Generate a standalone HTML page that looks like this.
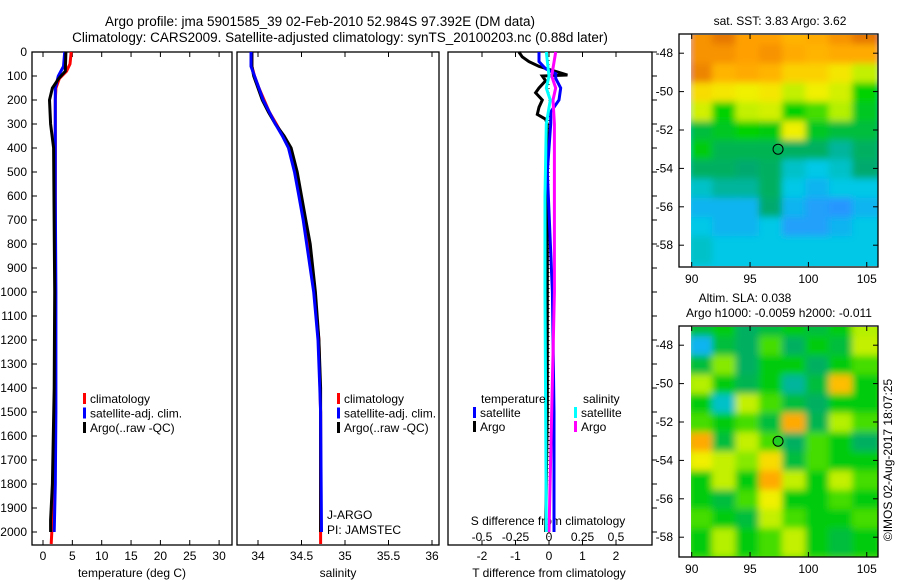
<!DOCTYPE html>
<html><head><meta charset="utf-8"><style>
body{margin:0;background:#fff;}
svg{display:block;font-family:"Liberation Sans",sans-serif;}
text{fill:#000;}
</style></head><body>
<svg id="c" width="900" height="580" viewBox="0 0 900 580">
<defs><filter id="bl" x="-5%" y="-5%" width="110%" height="110%"><feGaussianBlur stdDeviation="3.5"/></filter>
<clipPath id="cm1"><rect x="691" y="35" width="187" height="231"/></clipPath>
<clipPath id="cm2"><rect x="691" y="327" width="187" height="230"/></clipPath></defs>
<text x="320" y="26" font-size="13.5" text-anchor="middle">Argo profile: jma 5901585_39 02-Feb-2010 52.984S 97.392E (DM data)</text>
<text x="340" y="42" font-size="13.5" text-anchor="middle">Climatology: CARS2009. Satellite-adjusted climatology: synTS_20100203.nc (0.88d later)</text>
<g id="g"></g>
</svg>
<script>
// ---- profile data (depth in m) ----
const tClimDepth=[0,50,80,110,150,200,400,1000,1500,1800,2000,2050];
const tClim=[4.8,4.6,4.0,2.8,2.2,2.1,2.1,2.1,2.0,1.8,1.5,1.4];
const tSatDepth=[0,60,100,150,200,600,1000,1500,1800,2000];
const tSat=[3.7,3.5,2.6,2.1,2.1,2.1,2.2,2.2,2.1,1.9];
const tArgoDepth=[0,80,110,150,200,300,400,1000,1400,1800,1950,2000];
const tArgo=[3.9,3.8,2.7,1.6,1.1,1.3,1.8,2.0,1.9,1.6,1.3,1.3];
const sDepth=[0,60,100,150,200,250,300,350,400,500,600,700,800,900,1000,1200,1400,1500,2000];
const sArgo=[33.93,33.93,33.95,34.0,34.05,34.12,34.2,34.3,34.38,34.45,34.5,34.55,34.6,34.63,34.66,34.7,34.72,34.72,34.72];
const sSat=[33.92,33.92,33.96,34.01,34.06,34.13,34.2,34.28,34.35,34.42,34.47,34.52,34.56,34.6,34.64,34.69,34.71,34.72,34.73];
const sClimDepth=[0,60,100,150,200,250,300,400,500,600,800,1000,1200,1500,2000,2050];
const sClim=[33.93,33.93,33.96,34.01,34.07,34.13,34.21,34.36,34.44,34.49,34.58,34.65,34.7,34.72,34.72,34.72];
const dTArgoDepth=[0,20,40,60,85,96,100,120,150,170,200,230,260,280,300,500,1000,1500,2000];
const dTArgo=[-0.9,-0.8,-0.6,-0.3,0.3,0.55,-0.2,-0.1,-0.3,-0.4,-0.2,-0.3,-0.35,-0.1,-0.05,-0.05,-0.05,-0.05,-0.1];
const dTSatDepth=[0,40,70,90,110,150,200,250,300,500,1000,1500,2000];
const dTSat=[-0.3,-0.3,-0.1,0.2,0.2,0.35,0.3,0.05,0.05,-0.05,0.1,0.15,0.15];
const dSSatDepth=[0,100,150,200,300,600,1000,2000];
const dSSat=[-0.02,0,-0.02,0.01,-0.02,-0.03,-0.03,-0.02];
const dSArgoDepth=[0,100,150,200,300,1000,2000];
const dSArgo=[0.05,0.02,0.05,0.03,0.04,0.04,0.0];
const depthTicks=[0,100,200,300,400,500,600,700,800,900,1000,1100,1200,1300,1400,1500,1600,1700,1800,1900,2000];
const tTicks=[0,5,10,15,20,25,30];
const sTicks=[34,34.5,35,35.5,36];
const dTTicks=[-2,-1,0,1,2];
const dSTicks=[-0.5,-0.25,0,0.25,0.5];
const dSTickLabels=["-0.5","-0.25","0","0.25","0.5"];
const lonTicks=[90,95,100,105];
const latTicks=[-48,-50,-52,-54,-56,-58];
const sstGrid=[
[.86,.9,.84,.84,.8,.82,.86,.9],[.86,.86,.84,.86,.82,.8,.82,.82],[.88,.8,.82,.8,.74,.74,.7,.62],
[.72,.7,.68,.7,.62,.68,.64,.52],[.64,.52,.62,.64,.52,.55,.6,.48],[.45,.48,.52,.5,.68,.48,.45,.45],
[.5,.42,.42,.42,.4,.4,.35,.4],[.4,.4,.38,.4,.32,.3,.32,.38],[.32,.35,.35,.4,.3,.28,.3,.3],
[.28,.28,.28,.38,.28,.26,.25,.28],[.3,.28,.28,.3,.26,.26,.28,.3],[.32,.3,.3,.3,.3,.3,.3,.3]];
const slaGrid=[
[.45,.5,.4,.45,.5,.45,.5,.6],[.28,.45,.4,.55,.4,.5,.45,.62],[.45,.58,.4,.5,.5,.4,.5,.55],
[.6,.5,.42,.5,.35,.45,.78,.5],[.5,.32,.62,.55,.45,.4,.5,.5],[.55,.5,.55,.45,.82,.42,.6,.55],
[.82,.45,.62,.55,.4,.55,.5,.4],[.68,.62,.58,.72,.45,.55,.5,.5],[.5,.62,.5,.82,.62,.5,.62,.55],
[.5,.45,.55,.68,.5,.5,.55,.5],[.55,.5,.45,.62,.55,.5,.5,.55],[.5,.6,.5,.55,.62,.5,.45,.5]];
const floatLon=97.4, floatLat=-53.0;

const NS="http://www.w3.org/2000/svg";
const G=document.getElementById('g');
function el(t,a,p){const e=document.createElementNS(NS,t);for(const k in a)e.setAttribute(k,a[k]);(p||G).appendChild(e);return e;}
const Y=d=>52+d*0.24;
const xT=v=>43+v*5.87, xS=v=>258+(v-34)*87, xDT=v=>549+v*33.5, xDS=v=>549+v*134;

function line(xs,ds,fx,col,name){
  const pts=xs.map((v,i)=>fx(v).toFixed(1)+','+Y(ds[i]).toFixed(1)).join(' ');
  const p=el('polyline',{points:pts,fill:'none',stroke:col,'stroke-width':3,'stroke-linejoin':'miter'});
  
  
}
function txt(x,y,s,anchor,name,size){
  const t=el('text',{x:x,y:y,'font-size':size||12,'text-anchor':anchor||'start'});t.textContent=s;
  
  
  return t;
}
function panel(x0,x1,name){
  const r=el('rect',{x:x0,y:52,width:x1-x0,height:493,fill:'none',stroke:'#000','stroke-width':1.3});
  
  
}
panel(32,232,'temperature-panel');panel(237,439,'salinity-panel');panel(448,652,'difference-panel');
depthTicks.forEach(d=>{
  el('line',{x1:32,x2:37,y1:Y(d),y2:Y(d),stroke:'#000'});
  el('line',{x1:652,x2:657,y1:Y(d),y2:Y(d),stroke:'#000'});
  txt(27,Y(d)+4,String(d),'end','depth-tick-label');
});
function xticks(arr,fx,labels,ly,name){
  arr.forEach((v,i)=>{const x=fx(v);
    el('line',{x1:x,x2:x,y1:52,y2:57,stroke:'#000'});
    el('line',{x1:x,x2:x,y1:540,y2:545,stroke:'#000'});
    txt(x,ly,labels?labels[i]:String(v),'middle',name);});
}
xticks(tTicks,xT,null,560,'temperature-tick-label');
xticks(sTicks,xS,null,560,'salinity-tick-label');
xticks(dTTicks,xDT,null,560,'t-diff-tick-label');
dSTicks.forEach((v,i)=>txt(xDS(v),541,dSTickLabels[i],'middle','s-diff-tick-label'));
txt(132,577,'temperature (deg C)','middle','temperature-axis-title');
txt(338,577,'salinity','middle','salinity-axis-title');
txt(549,577,'T difference from climatology','middle','t-diff-axis-title');
txt(548,525,'S difference from climatology','middle','s-diff-axis-title');
el('line',{x1:549,x2:549,y1:52,y2:545,stroke:'#000','stroke-dasharray':'1,3'});
line(tClim,tClimDepth,xT,'#ff0000','temperature-climatology-line');
line(tSat,tSatDepth,xT,'#0000ff','temperature-satellite-line');
line(tArgo,tArgoDepth,xT,'#000','temperature-argo-line');
line(sClim,sClimDepth,xS,'#ff0000','salinity-climatology-line');
line(sArgo,sDepth,xS,'#000','salinity-argo-line');
line(sSat,sDepth,xS,'#0000ff','salinity-satellite-line');
line(dTArgo,dTArgoDepth,xDT,'#000','t-diff-argo-line');
line(dTSat,dTSatDepth,xDT,'#0000ff','t-diff-satellite-line');
line(dSArgo,dSArgoDepth,xDS,'#ff00ff','s-diff-argo-line');
line(dSSat,dSSatDepth,xDS,'#00ffff','s-diff-satellite-line');
function leg(x,y,col,s,name){
  const r=el('rect',{x:x,y:y-10,width:3,height:11,fill:col});
  
  
  txt(x+7,y,s,'start',name);
}
[['#ff0000','climatology'],['#0000ff','satellite-adj. clim.'],['#000','Argo(..raw -QC)']].forEach((l,i)=>{
  leg(83,403+i*14.5,l[0],l[1],'temp-legend-entry');leg(337,403+i*14.5,l[0],l[1],'sal-legend-entry');});
txt(481,403,'temperature','start','diff-legend-temperature-header');
txt(583,403,'salinity','start','diff-legend-salinity-header');
leg(473,417,'#0000ff','satellite','diff-legend-entry');leg(473,431,'#000','Argo','diff-legend-entry');
leg(574,417,'#00ffff','satellite','diff-legend-entry');leg(574,431,'#ff00ff','Argo','diff-legend-entry');
txt(327,519,'J-ARGO','start','dac-label');
txt(327,534,'PI: JAMSTEC','start','pi-label');
function cmap(v){
  const st=[[.25,[40,150,255]],[.3,[0,200,230]],[.38,[0,170,110]],[.45,[0,190,60]],[.52,[0,210,0]],[.6,[180,240,0]],[.68,[240,240,0]],[.76,[255,200,0]],[.84,[255,160,0]],[.9,[230,120,0]]];
  if(v<=st[0][0])return 'rgb('+st[0][1]+')';
  for(let i=1;i<st.length;i++){if(v<=st[i][0]){const f=(v-st[i-1][0])/(st[i][0]-st[i-1][0]);const c=st[i][1].map((x,k)=>Math.round(st[i-1][1][k]+(x-st[i-1][1][k])*f));return 'rgb('+c+')';}}
  return 'rgb('+st[st.length-1][1]+')';
}
function map(top,bottom,grid,clip,name,circFill){
  const lx=v=>691.7+(v-90)*11.67;
  const LY=v=>top+(-47-v)*19.2;
  const g=el('g',{'clip-path':'url(#'+clip+')'});
  
  
  const gi=el('g',{filter:'url(#bl)'},g);
  el('rect',{x:686,y:top-5,width:200,height:bottom-top+10,fill:cmap(grid[11][3])},gi);
  grid.forEach((row,r)=>row.forEach((v,c)=>{
    el('rect',{x:lx(90+c*2)-3,y:LY(-47-r)-9,width:23.4+6,height:19.2+9,fill:cmap(v)},gi);}));
  el('rect',{x:679,y:top,width:199,height:bottom-top,fill:'none',stroke:'#000','stroke-width':1.3});
  lonTicks.forEach(v=>{const x=lx(v);el('line',{x1:x,x2:x,y1:top,y2:top+5,stroke:'#000'});el('line',{x1:x,x2:x,y1:bottom-5,y2:bottom,stroke:'#000'});
    txt(x,bottom+16,String(v),'middle','map-lon-tick-label');});
  latTicks.forEach(v=>{const y=LY(v);el('line',{x1:679,x2:684,y1:y,y2:y,stroke:'#000'});el('line',{x1:873,x2:878,y1:y,y2:y,stroke:'#000'});
    txt(673,y+4,String(v),'end','map-lat-tick-label');});
  const c=el('circle',{cx:lx(floatLon),cy:LY(floatLat),r:5,fill:circFill,stroke:'#000','stroke-width':1});
  
  
}
map(34,267,sstGrid,'cm1','sst-map','none');
map(326,557,slaGrid,'cm2','sla-map','#22cc22');
txt(780,25,'sat. SST: 3.83 Argo: 3.62','middle','sst-map-title');
txt(745,302,'Altim. SLA: 0.038','middle','sla-map-title');
txt(779,317,'Argo h1000: -0.0059 h2000: -0.011','middle','sla-map-subtitle');
const cp=txt(0,0,'©IMOS 02-Aug-2017 18:07:25','middle','copyright-label');
cp.setAttribute('transform','translate(892,460) rotate(-90)');
</script>
</body></html>
